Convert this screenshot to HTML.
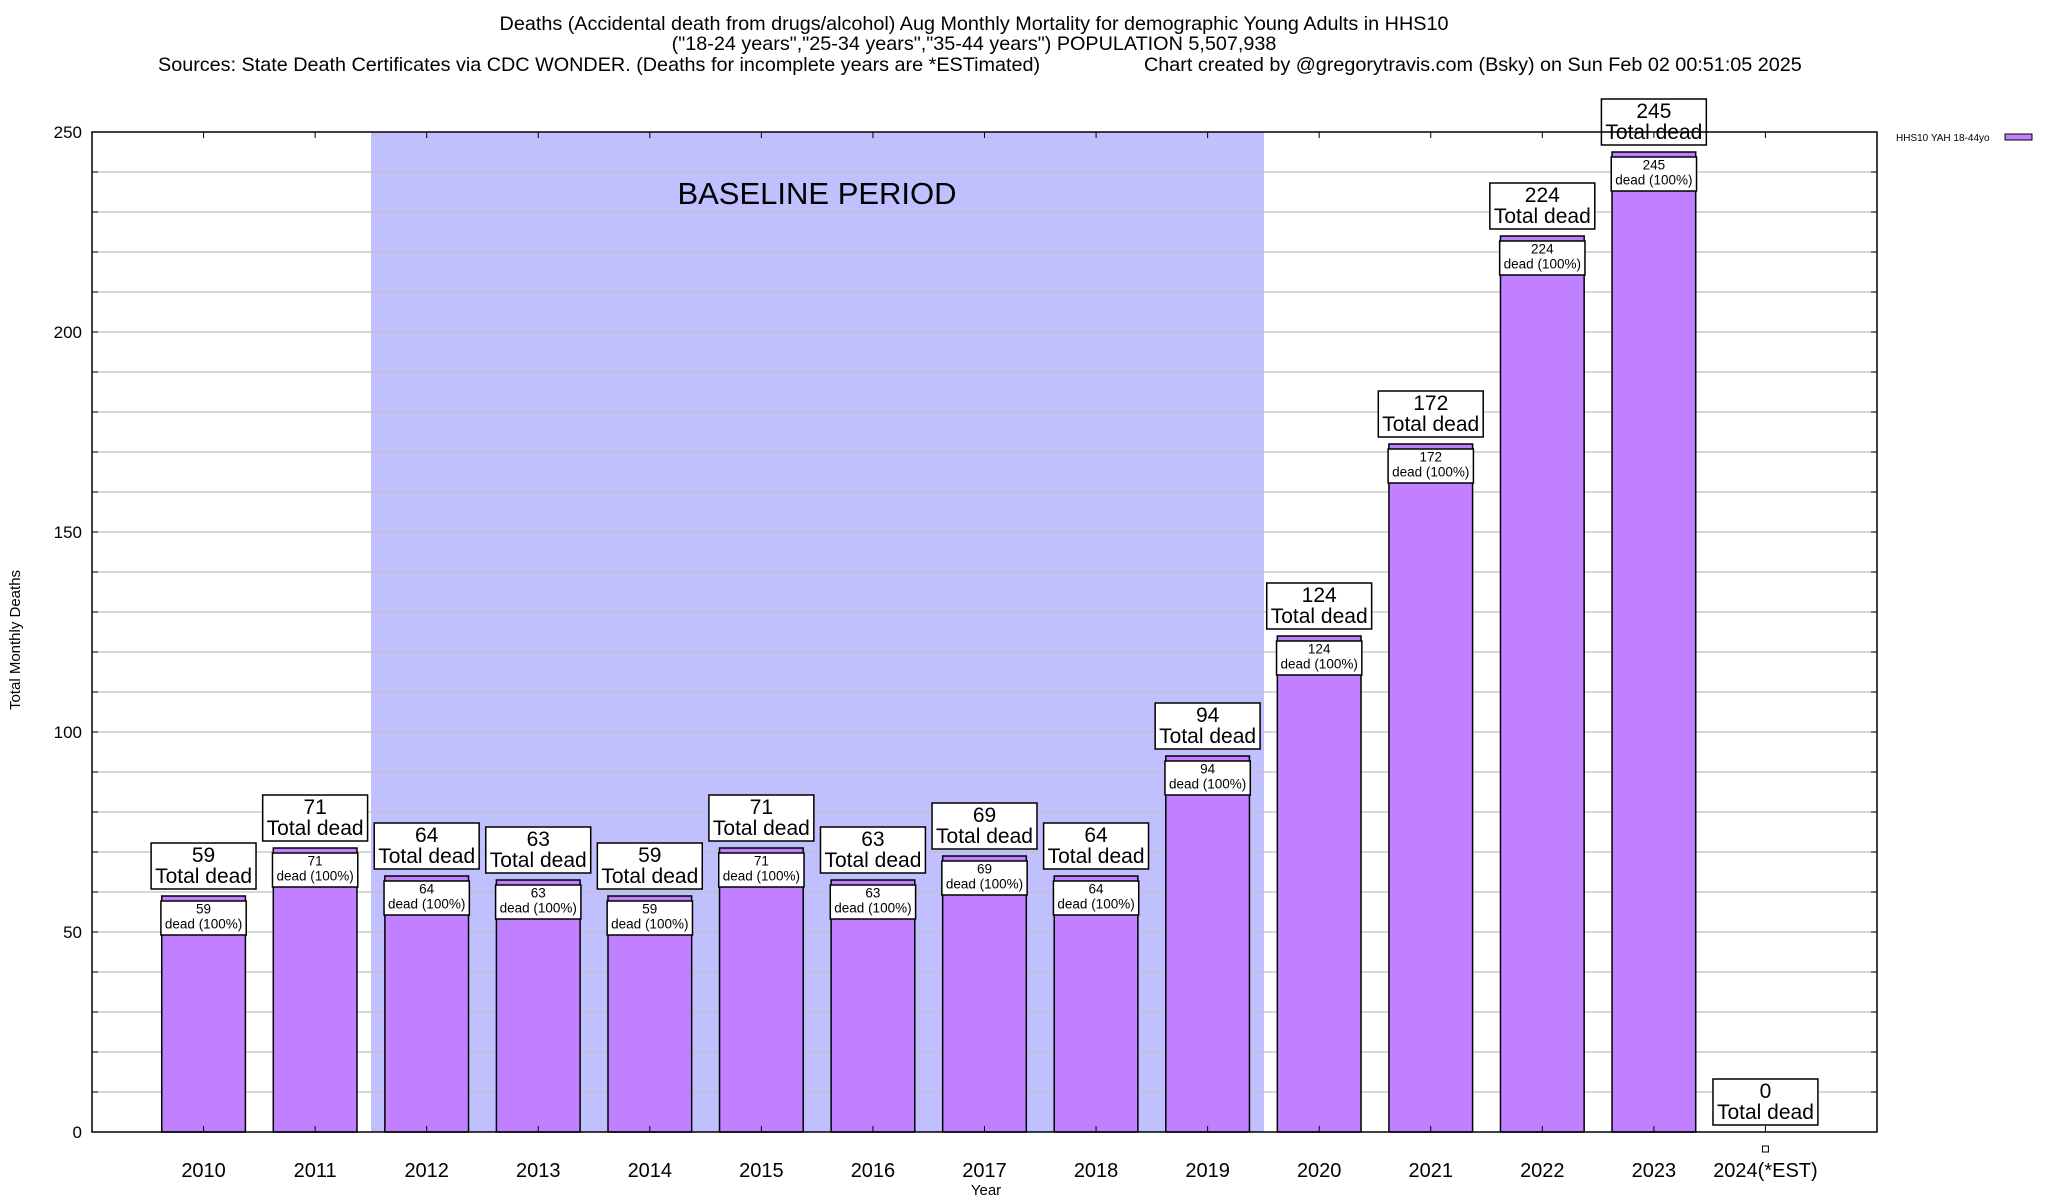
<!DOCTYPE html>
<html><head><meta charset="utf-8"><style>
body{margin:0;background:#fff}
svg{display:block;font-family:"Liberation Sans",sans-serif}
</style></head><body>
<svg id="chart" width="2048" height="1200" viewBox="0 0 2048 1200">
<g font-size="19.8" text-anchor="middle" fill="#000">
<text x="974" y="30">Deaths (Accidental death from drugs/alcohol) Aug Monthly Mortality for demographic Young Adults in HHS10</text>
<text x="974" y="50">("18-24 years","25-34 years","35-44 years") POPULATION 5,507,938</text>
<text x="158" y="71" text-anchor="start">Sources: State Death Certificates via CDC WONDER. (Deaths for incomplete years are *ESTimated)</text>
<text x="1144" y="71" text-anchor="start">Chart created by @gregorytravis.com (Bsky) on Sun Feb 02 00:51:05 2025</text>
</g>
<rect x="371" y="132" width="893" height="1000" fill="#c0c0ff"/>
<g id="grid"></g>
<text x="817" y="204" font-size="31" text-anchor="middle">BASELINE PERIOD</text>
<g id="bars"></g>
<rect x="92" y="132" width="1785" height="1000" fill="none" stroke="#000" stroke-width="1.5"/>
<g id="axes" font-size="17"></g>
<text x="20" y="640" font-size="15" text-anchor="middle" transform="rotate(-90 20 640)">Total Monthly Deaths</text>
<text x="986" y="1195" font-size="15" text-anchor="middle">Year</text>
<g>
<text x="1896" y="141" font-size="10">HHS10 YAH 18-44yo</text>
<rect x="2005" y="134" width="27" height="6" fill="#c080ff" stroke="#000"/>
</g>
</svg>
<script>
const categories=["2010","2011","2012","2013","2014","2015","2016","2017","2018","2019","2020","2021","2022","2023","2024(*EST)"];
const deaths=[59,71,64,63,59,71,63,69,64,94,124,172,224,245,0];
const yTicks=[0,50,100,150,200,250];
const NS="http://www.w3.org/2000/svg";
const L=92,R=1877,T=132,B=1132,yMax=250,slot=(R-L)/16;
const xS=i=>L+slot*(i+1);
const yS=v=>B-(v/yMax)*(B-T);
function mk(tag,attrs,parent,txt){const e=document.createElementNS(NS,tag);for(const k in attrs)e.setAttribute(k,attrs[k]);if(txt!==undefined)e.textContent=txt;parent.appendChild(e);return e;}
const grid=document.getElementById('grid'),bars=document.getElementById('bars'),axes=document.getElementById('axes');
for(let v=10;v<yMax;v+=10){
 const g=mk('line',{x1:L,x2:R,y1:yS(v),y2:yS(v),stroke:'#c0c0c0','stroke-width':1.2},grid);
 
 
 const t1=mk('line',{x1:L,x2:L+6,y1:yS(v),y2:yS(v),stroke:'#000'},axes);
 
 
 const t2=mk('line',{x1:R-6,x2:R,y1:yS(v),y2:yS(v),stroke:'#000'},axes);
 
 
}
yTicks.forEach(v=>{
 const t=mk('text',{x:L-10,y:yS(v)+6,'text-anchor':'end'},axes,String(v));
 
 
});
function box(parent,cx,yBottom,lines,fs,lh,pad,name){
 const g=mk('g',{},parent);
 
 
 const r=mk('rect',{fill:'#fff',stroke:'#000','stroke-width':1.5},g);
 const h=lines.length*lh+4;
 const ts=lines.map((s,k)=>mk('text',{x:cx,y:yBottom-h+lh*(k+1)-(lh-fs)/2-2,'font-size':fs,'text-anchor':'middle'},g,s));
 let w=0;ts.forEach(t=>w=Math.max(w,t.getBBox().width));
 w+=pad*2;
 r.setAttribute('x',cx-w/2);r.setAttribute('y',yBottom-h);r.setAttribute('width',w);r.setAttribute('height',h);
 return g;
}
categories.forEach((c,i)=>{
 const cx=xS(i),v=deaths[i],bw=slot*0.75;
 const xt=mk('line',{x1:cx,x2:cx,y1:T,y2:T+6,stroke:'#000'},axes);
 
 
 const xb=mk('line',{x1:cx,x2:cx,y1:B-6,y2:B,stroke:'#000'},axes);
 
 
 const lab=mk('text',{x:cx,y:1177,'text-anchor':'middle','font-size':20},axes,c);
 
 
 if(v>0){
  const b=mk('rect',{x:cx-bw/2,y:yS(v),width:bw,height:B-yS(v),fill:'#c080ff',stroke:'#000','stroke-width':1.5},bars);
  
  
  box(bars,cx,yS(v)+39,[String(v),'dead (100%)'],13.5,15,4,'inner-label-'+c);
 } else {
  const m=mk('rect',{x:cx-3,y:B+14,width:6,height:6,fill:'#fff',stroke:'#000'},bars);
  
  
 }
 box(bars,cx,yS(v)-7,[String(v),'Total dead'],21,21,4,'total-label-'+c);
});
</script>
</body></html>
